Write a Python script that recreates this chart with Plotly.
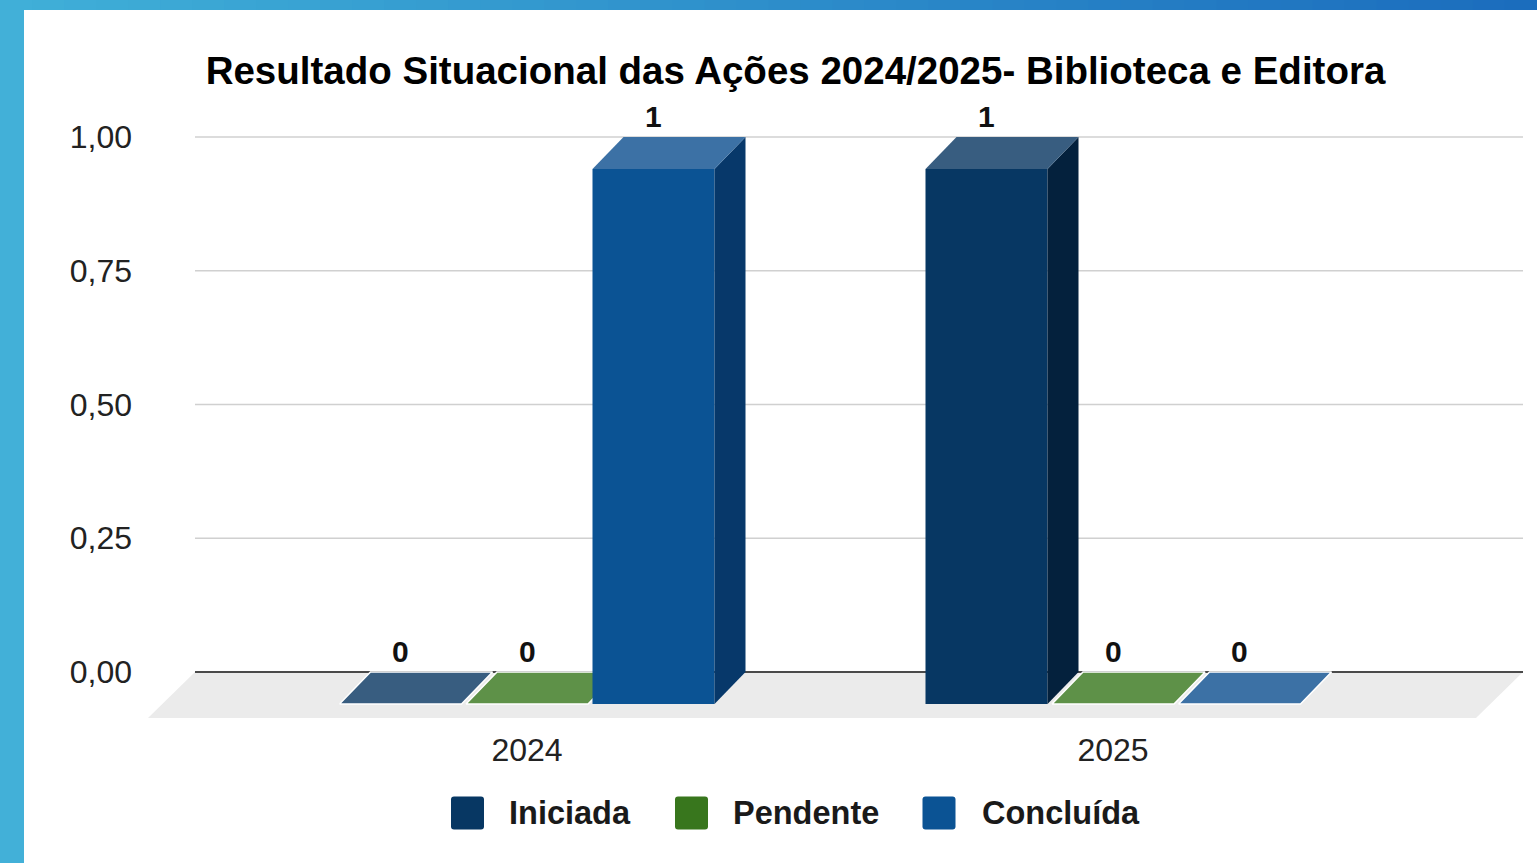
import plotly.graph_objects as go

# ---------------- data ----------------
categories = ["2024", "2025"]
series_names = ["Iniciada", "Pendente", "Concluída"]
iniciada = [0, 1]
pendente = [0, 0]
concluida = [1, 0]
series_values = [iniciada, pendente, concluida]
y_ticks = [0, 0.25, 0.5, 0.75, 1.0]
title_text = "Resultado Situacional das Ações 2024/2025- Biblioteca e Editora"

# ---------------- styles ----------------
front_colors = ["#073763", "#38761d", "#0b5394"]
top_colors = ["#385d80", "#5e9148", "#3c71a5"]
side_colors = ["#04213d", "#234a12", "#07386a"]
FONT = "Liberation Sans, Arial, sans-serif"

W, H = 1537, 863
L, R, T, B = 148, 1523, 100, 720          # plot area in pixels
CAT0_PX, CAT_PX = 527, 586                 # category centre / spacing (px)
ZERO_PX, UNIT_PX = 672, 535                # back-wall zero / unit (px)

x_range = [(L - CAT0_PX) / CAT_PX, (R - CAT0_PX) / CAT_PX]
y_range = [(ZERO_PX - B) / UNIT_PX, (ZERO_PX - T) / UNIT_PX]

BAR_W = 122 / CAT_PX
BAR_STEP = 126.5 / CAT_PX
DX = 31 / CAT_PX          # depth offset (x units)
DY = 32 / UNIT_PX         # depth offset (y units)
FLOOR_DX = 47 / CAT_PX
FLOOR_DY = 46 / UNIT_PX


def xp(px):
    return (px - L) / (R - L)


def yp(py):
    return (B - py) / (B - T)


fig = go.Figure()


def poly(xs, ys, color, line_color=None, line_w=0):
    fig.add_trace(go.Scatter(
        x=xs + [xs[0]], y=ys + [ys[0]], mode="lines", fill="toself",
        fillcolor=color,
        line=dict(color=line_color or color, width=line_w),
        showlegend=False, hoverinfo="skip"))


# floor
fx0, fx1 = x_range[0], x_range[1]
poly([fx0, fx0 + FLOOR_DX, fx1, fx1 - FLOOR_DX],
     [-FLOOR_DY, 0, 0, -FLOOR_DY], "#ebebeb")
# back edge (zero line)
fig.add_trace(go.Scatter(x=[fx0 + FLOOR_DX, fx1], y=[0, 0], mode="lines",
                         line=dict(color="#4a4a4a", width=2),
                         showlegend=False, hoverinfo="skip"))

# bars (drawn left to right)
for ci, cat in enumerate(categories):
    for si, name in enumerate(series_names):
        v = series_values[si][ci]
        xc = ci + (si - 1) * BAR_STEP
        xl, xr = xc - BAR_W / 2, xc + BAR_W / 2
        yb = -DY
        if v == 0:
            poly([xl, xr, xr + DX, xl + DX], [yb, yb, 0, 0],
                 top_colors[si], "white", 1.5)
        else:
            yt = v - DY
            poly([xl, xr, xr, xl], [yb, yb, yt, yt], front_colors[si])
            poly([xr, xr + DX, xr + DX, xr], [yb, 0, v, yt], side_colors[si])
            poly([xl, xr, xr + DX, xl + DX], [yt, yt, v, v], top_colors[si])
        fig.add_annotation(x=xc, y=v, xref="x", yref="y", text=f"<b>{v}</b>",
                           showarrow=False, yanchor="bottom", yshift=2,
                           font=dict(family=FONT, size=30, color="#111111"))

shapes = []
# gridlines on back wall
for t in y_ticks:
    if t == 0:
        continue
    shapes.append(dict(type="line", xref="x", yref="y",
                       x0=fx0 + FLOOR_DX, x1=fx1, y0=t, y1=t,
                       line=dict(color="#d0d0d0", width=1.5), layer="below"))

# frame: left strip and top gradient strip
shapes.append(dict(type="rect", xref="paper", yref="paper",
                   x0=xp(0), x1=xp(24), y0=yp(H), y1=yp(0),
                   fillcolor="#42b0d8", line=dict(width=0), layer="below"))
c0 = (64, 176, 216)
c1 = (27, 108, 189)
N = 48
for k in range(N):
    f = (k + 0.5) / N
    col = "rgb(%d,%d,%d)" % tuple(round(a + (b - a) * f) for a, b in zip(c0, c1))
    shapes.append(dict(type="rect", xref="paper", yref="paper",
                       x0=xp(W * k / N), x1=xp(W * (k + 1) / N + 1),
                       y0=yp(10), y1=yp(0),
                       fillcolor=col, line=dict(width=0), layer="below"))

# legend (manual, large swatches)
legend_sq_px = [467.5, 691.5, 939]
legend_txt_px = [507, 731, 980]
LEG_Y = 813
for si, name in enumerate(series_names):
    r, s = 3, 16.5
    path = (f"M{-s+r},{-s} L{s-r},{-s} Q{s},{-s} {s},{-s+r} L{s},{s-r} Q{s},{s} {s-r},{s} "
            f"L{-s+r},{s} Q{-s},{s} {-s},{s-r} L{-s},{-s+r} Q{-s},{-s} {-s+r},{-s} Z")
    shapes.append(dict(type="path", xref="paper", yref="paper",
                       xsizemode="pixel", ysizemode="pixel",
                       xanchor=xp(legend_sq_px[si]), yanchor=yp(LEG_Y),
                       path=path, fillcolor=front_colors[si],
                       line=dict(width=0)))
    fig.add_annotation(x=xp(legend_txt_px[si]), y=yp(LEG_Y), xref="paper", yref="paper",
                       text=f"<b>{name}</b>", showarrow=False,
                       xanchor="left", yanchor="middle",
                       font=dict(family=FONT, size=32.5, color="#1a1a1a"))

fig.update_layout(
    width=W, height=H,
    margin=dict(l=L, r=W - R, t=T, b=H - B, pad=0),
    paper_bgcolor="white", plot_bgcolor="rgba(0,0,0,0)",
    separators=",.",
    showlegend=False,
    shapes=shapes,
    title=dict(text=f"<b>{title_text}</b>", x=795.5 / W, xanchor="center",
               y=1 - 71 / H, yanchor="middle",
               font=dict(family=FONT, size=38.5, color="#000000")),
    xaxis=dict(range=x_range, tickvals=[0, 1], ticktext=categories,
               showgrid=False, zeroline=False, showline=False, ticks="",
               ticklabelstandoff=8, fixedrange=True,
               tickfont=dict(family=FONT, size=32, color="#222222")),
    yaxis=dict(range=y_range, tickvals=y_ticks, tickformat=".2f",
               showgrid=False, zeroline=False, showline=False, ticks="",
               ticklabelstandoff=15, fixedrange=True,
               tickfont=dict(family=FONT, size=32, color="#222222")),
)

fig.write_html("out.html", config={"displayModeBar": False},
               post_script="document.body.style.margin='0';document.body.style.overflow='hidden';")
